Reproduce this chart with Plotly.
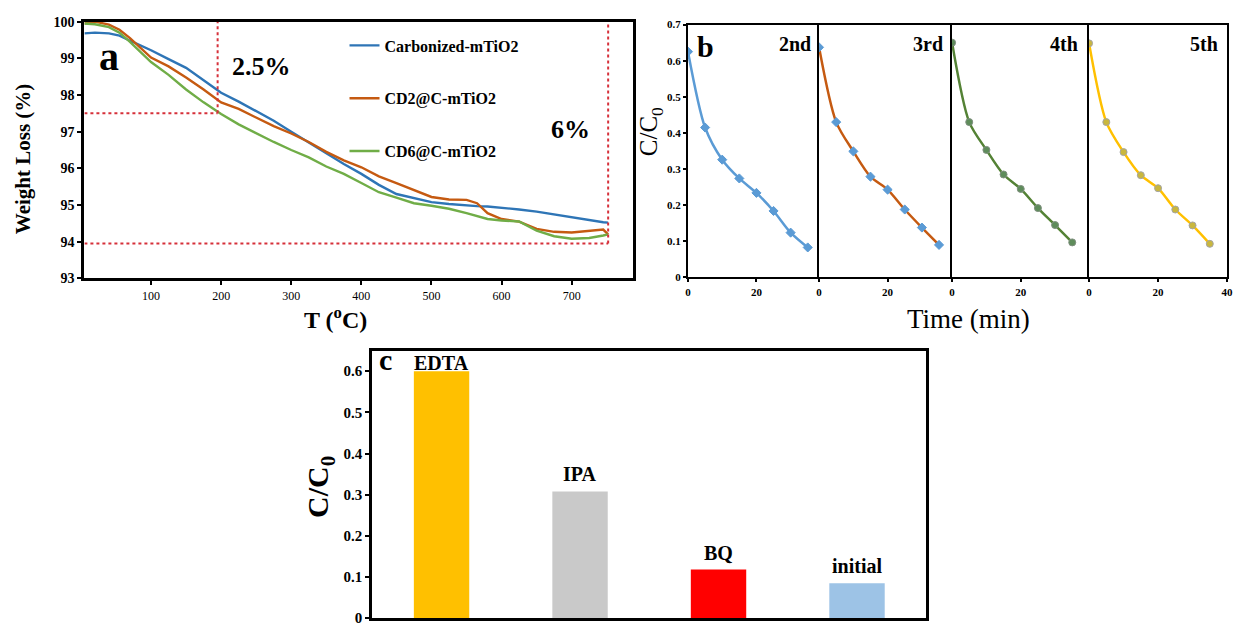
import plotly.graph_objects as go

W, H = 1241, 632
SERIF = "Liberation Serif"

# ---------------- Panel a data (TGA) ----------------
temp_c = [5, 20, 40, 55, 70, 100, 125, 150, 175, 200, 225, 250, 275, 300, 325, 350,
          375, 400, 425, 450, 475, 500, 525, 550, 565, 580, 600, 625, 650, 675, 700,
          725, 745, 752]
carbonized = [99.68, 99.70, 99.68, 99.62, 99.48, 99.22, 98.98, 98.74, 98.40, 98.06,
              97.82, 97.56, 97.30, 97.00, 96.70, 96.40, 96.12, 95.85, 95.55, 95.30,
              95.18, 95.08, 95.03, 94.98, 94.97, 94.96, 94.93, 94.88, 94.82, 94.74,
              94.66, 94.60, 94.53, 94.52]
cd2 = [99.95, 100.0, 99.92, 99.78, 99.55, 99.02, 98.78, 98.48, 98.15, 97.80, 97.62,
       97.38, 97.15, 96.95, 96.72, 96.45, 96.22, 96.03, 95.78, 95.60, 95.40, 95.22,
       95.15, 95.14, 95.05, 94.78, 94.62, 94.55, 94.35, 94.27, 94.25, 94.30, 94.33,
       94.20]
cd6 = [99.95, 99.93, 99.85, 99.70, 99.45, 98.90, 98.55, 98.15, 97.80, 97.48, 97.20,
       96.95, 96.72, 96.50, 96.30, 96.05, 95.85, 95.60, 95.35, 95.20, 95.05, 94.98,
       94.90, 94.78, 94.70, 94.62, 94.58, 94.55, 94.30, 94.15, 94.08, 94.10, 94.17,
       94.20]
series_a_names = ["Carbonized-mTiO2", "CD2@C-mTiO2", "CD6@C-mTiO2"]
series_a_colors = ["#2E75B6", "#C55A11", "#70AD47"]

# reference guide lines (dotted red)
guide_t1, guide_w1 = 195, 97.5
guide_t2, guide_w2 = 752, 93.95

# ---------------- Panel b data (cycles) ----------------
time_min = [0, 5, 10, 15, 20, 25, 30, 35]
cycle_labels = ["2nd", "3rd", "4th", "5th"]
cycle_2 = [0.625, 0.415, 0.326, 0.274, 0.234, 0.184, 0.124, 0.083]
cycle_3 = [0.637, 0.430, 0.349, 0.279, 0.243, 0.188, 0.138, 0.090]
cycle_4 = [0.650, 0.430, 0.353, 0.285, 0.245, 0.192, 0.145, 0.097]
cycle_5 = [0.648, 0.430, 0.347, 0.283, 0.247, 0.188, 0.144, 0.093]
cycle_line_colors = ["#5B9BD5", "#C55A11", "#548235", "#FFC000"]
cycle_marker_colors = ["#5B9BD5", "#5B9BD5", "#5E8C5A", "#C9B73E"]
cycle_marker_edges = ["#5B9BD5", "#5B9BD5", "#7F8F7F", "#A5A5A5"]
cycle_symbols = ["diamond", "diamond", "circle", "circle"]

# ---------------- Panel c data (scavengers) ----------------
scavengers = ["EDTA", "IPA", "BQ", "initial"]
scav_values = [0.60, 0.308, 0.118, 0.085]
scav_colors = ["#FFC000", "#C9C9C9", "#FF0000", "#9DC3E6"]
scav_label_shift = [-5, 4, 4, 4]


def px_x(p):
    return p / W


def px_y(p):
    return 1 - p / H


fig = go.Figure()

# ---- panel a traces
for i, (name, vals) in enumerate(zip(series_a_names, [carbonized, cd2, cd6])):
    fig.add_trace(go.Scatter(
        x=temp_c, y=vals, mode="lines", name=name,
        line=dict(color=series_a_colors[i], width=2.4),
        legendgroup=name, xaxis="x", yaxis="y"))

# ---- panel b traces
cycles = [cycle_2, cycle_3, cycle_4, cycle_5]
for i, vals in enumerate(cycles):
    k = i + 2
    fig.add_trace(go.Scatter(
        x=time_min, y=vals, mode="lines+markers", showlegend=False,
        line=dict(color=cycle_line_colors[i], width=2.5, shape="spline", smoothing=0.8),
        marker=dict(symbol=cycle_symbols[i], size=7, color=cycle_marker_colors[i],
                    line=dict(color=cycle_marker_edges[i], width=1)),
        xaxis=f"x{k}", yaxis=f"y{k}"))

# ---- panel c bars
fig.add_trace(go.Bar(
    x=scavengers, y=scav_values, marker=dict(color=scav_colors, line=dict(width=0)),
    showlegend=False, xaxis="x6", yaxis="y6"))

layout = dict(
    width=W, height=H, margin=dict(l=0, r=0, t=0, b=0),
    paper_bgcolor="white", plot_bgcolor="white",
    font=dict(family=SERIF, color="black"),
    bargap=0.6,
)

# panel a axes
layout["xaxis"] = dict(
    domain=[px_x(82), px_x(635)], range=[5, 788], anchor="y",
    tickvals=[100, 200, 300, 400, 500, 600, 700],
    showline=True, linecolor="black", linewidth=3, mirror=True,
    ticks="outside", ticklen=4, tickwidth=2, tickcolor="black",
    tickfont=dict(family=SERIF, size=12), showgrid=False, zeroline=False)
layout["yaxis"] = dict(
    domain=[px_y(278), px_y(15)], range=[93, 100], anchor="x",
    tickvals=[93, 94, 95, 96, 97, 98, 99, 100],
    showline=True, linecolor="black", linewidth=3, mirror=True,
    ticks="outside", ticklen=4, tickwidth=2, tickcolor="black",
    tickfont=dict(family=SERIF, size=14, weight="bold"), showgrid=False, zeroline=False)

# panel b axes
b_edges = [690, 822, 956, 1094, 1233]
b_ranges = [38.3, 38.8, 39.9, 40.0]
for i in range(4):
    k = i + 2
    layout[f"xaxis{k}"] = dict(
        domain=[px_x(b_edges[i]), px_x(b_edges[i + 1])], range=[0, b_ranges[i]],
        anchor=f"y{k}", tickvals=[0, 20] if i < 3 else [0, 20, 40],
        showline=True, linecolor="black", linewidth=2, mirror=True,
        ticks="outside", ticklen=3, tickwidth=1.5, tickcolor="black",
        tickfont=dict(family=SERIF, size=11, weight="bold"),
        showgrid=False, zeroline=False)
    layout[f"yaxis{k}"] = dict(
        domain=[px_y(277), px_y(18)], range=[0, 0.7], anchor=f"x{k}",
        tickvals=[0, 0.1, 0.2, 0.3, 0.4, 0.5, 0.6, 0.7],
        showticklabels=(i == 0),
        showline=True, linecolor="black", linewidth=2, mirror=(i == 3),
        ticks="outside" if i == 0 else "", ticklen=3, tickwidth=1.5, tickcolor="black",
        tickfont=dict(family=SERIF, size=11, weight="bold"),
        showgrid=False, zeroline=False)

# panel c axes
layout["xaxis6"] = dict(
    domain=[px_x(372), px_x(930)], anchor="y6", showticklabels=False,
    showline=True, linecolor="black", linewidth=3, mirror=True,
    ticks="", showgrid=False, zeroline=False)
layout["yaxis6"] = dict(
    domain=[px_y(626), px_y(352)], range=[0, 0.65], anchor="x6",
    tickvals=[0, 0.1, 0.2, 0.3, 0.4, 0.5, 0.6],
    showline=True, linecolor="black", linewidth=3, mirror=True,
    ticks="outside", ticklen=4, tickwidth=2, tickcolor="black",
    tickfont=dict(family=SERIF, size=15, weight="bold"),
    showgrid=False, zeroline=False)

layout["legend"] = dict(
    x=px_x(344), y=px_y(22), xanchor="left", yanchor="top",
    bgcolor="rgba(0,0,0,0)", traceorder="grouped", tracegroupgap=29,
    itemwidth=30, font=dict(family=SERIF, size=16, weight="bold"))

fig.update_layout(**layout)

# dotted guide lines in panel a
dot = dict(color="#D6303A", width=2, dash="dot")
fig.add_shape(type="line", xref="x", yref="y", x0=5, x1=guide_t1, y0=guide_w1, y1=guide_w1, line=dot)
fig.add_shape(type="line", xref="x", yref="y", x0=guide_t1, x1=guide_t1, y0=guide_w1, y1=100, line=dot)
fig.add_shape(type="line", xref="x", yref="y", x0=5, x1=guide_t2, y0=guide_w2, y1=guide_w2, line=dot)
fig.add_shape(type="line", xref="x", yref="y", x0=guide_t2, x1=guide_t2, y0=guide_w2, y1=100, line=dot)

ann = []


def text(x, y, s, size, bold=True, xanchor="center", **kw):
    d = dict(x=px_x(x), y=px_y(y), xref="paper", yref="paper", text=s, showarrow=False,
             xanchor=xanchor, yanchor="middle",
             font=dict(family=SERIF, size=size, color="black", weight="bold" if bold else "normal"))
    d.update(kw)
    ann.append(d)


# panel a texts
text(107, 51, "a", 40)
text(260, 61, "2.5%", 26)
text(572, 125, "6%", 26)
text(20, 155, "Weight Loss (%)", 21, textangle=-90)
text(335, 319, "T (<sup>o</sup>C)", 24)

# panel b texts
text(708, 40, "b", 30)
b_label_right = [816, 949, 1085, 1226]
for lbl, xr in zip(cycle_labels, b_label_right):
    text(xr, 38, lbl, 20, xanchor="right")
text(653, 128, "C/C<sub>0</sub>", 25, bold=False, textangle=-90)
text(973, 320, "Time (min)", 27, bold=False)

# panel c texts
text(385, 361, "c", 30)
text(320, 492, "C/C<sub>0</sub>", 30, textangle=-90)
for cat, v, sh in zip(scavengers, scav_values, scav_label_shift):
    ann.append(dict(x=cat, y=v, xref="x6", yref="y6", text=cat, showarrow=False,
                    xanchor="center", yanchor="bottom", yshift=sh,
                    font=dict(family=SERIF, size=20, color="black", weight="bold")))

fig.update_layout(annotations=ann)
fig.write_html("out.html")
